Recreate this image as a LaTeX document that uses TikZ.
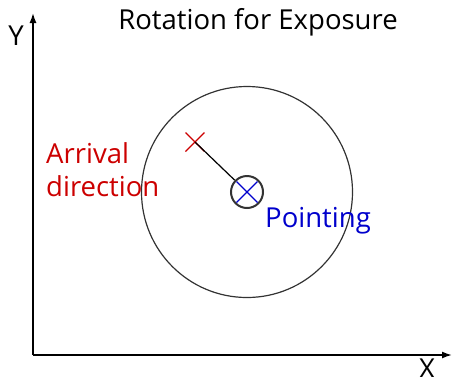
\documentclass[tikz,border=0pt]{standalone}
\usepackage{fontspec}
\setmainfont{Open Sans}
\usetikzlibrary{arrows.meta}
\definecolor{myred}{HTML}{CC0000}
\definecolor{myblue}{HTML}{0000CC}
\definecolor{mygray}{HTML}{333333}
\begin{document}
\begin{tikzpicture}[x=1pt,y=-1pt,
  axis/.style={line width=1.6pt,-{Latex[length=10pt,width=7pt]}},
  lbl/.style={font=\fontsize{27.5}{30}\selectfont,inner sep=0pt},
  cross/.style={line width=1.2pt}]
\useasboundingbox (0,0) rectangle (452,376);
\coordinate (O) at (33,355);
\coordinate (Ytip) at (33,13);
\coordinate (Xtip) at (452,355);
\draw[axis] (O) -- (Ytip);
\draw[axis] (O) -- (Xtip);
\node[lbl,anchor=base] (ylab) at (16,45) {Y};
\node[lbl,anchor=base] (xlab) at (427,378) {X};
\node[lbl,anchor=base] (title) at (258,29) {Rotation for Exposure};
\node[circle,draw=mygray,line width=1.2pt,minimum size=211pt,inner sep=0pt] (big) at (247,192) {};
\node[circle,draw=mygray,line width=2pt,minimum size=32pt,inner sep=0pt] (small) at (247,192) {};
\draw[cross,myblue] (small.center) ++(-10.5,-10.5) -- ++(21,21);
\draw[cross,myblue] (small.center) ++(10.5,-10.5) -- ++(-21,21);
\coordinate (arr) at (195,142);
\draw[cross,myred] (arr) ++(-9.5,-9.5) -- ++(19,19);
\draw[cross,myred] (arr) ++(9.5,-9.5) -- ++(-19,19);
\draw[line width=1.2pt] (arr) -- (small);
\node[lbl,anchor=base west,text=myred] (arrlab) at (46,163) {Arrival};
\node[lbl,anchor=base west,text=myred] (arrlab2) at (46,196) {direction};
\node[lbl,anchor=base west,text=myblue] (point) at (265,227) {Pointing};
\end{tikzpicture}
\end{document}
